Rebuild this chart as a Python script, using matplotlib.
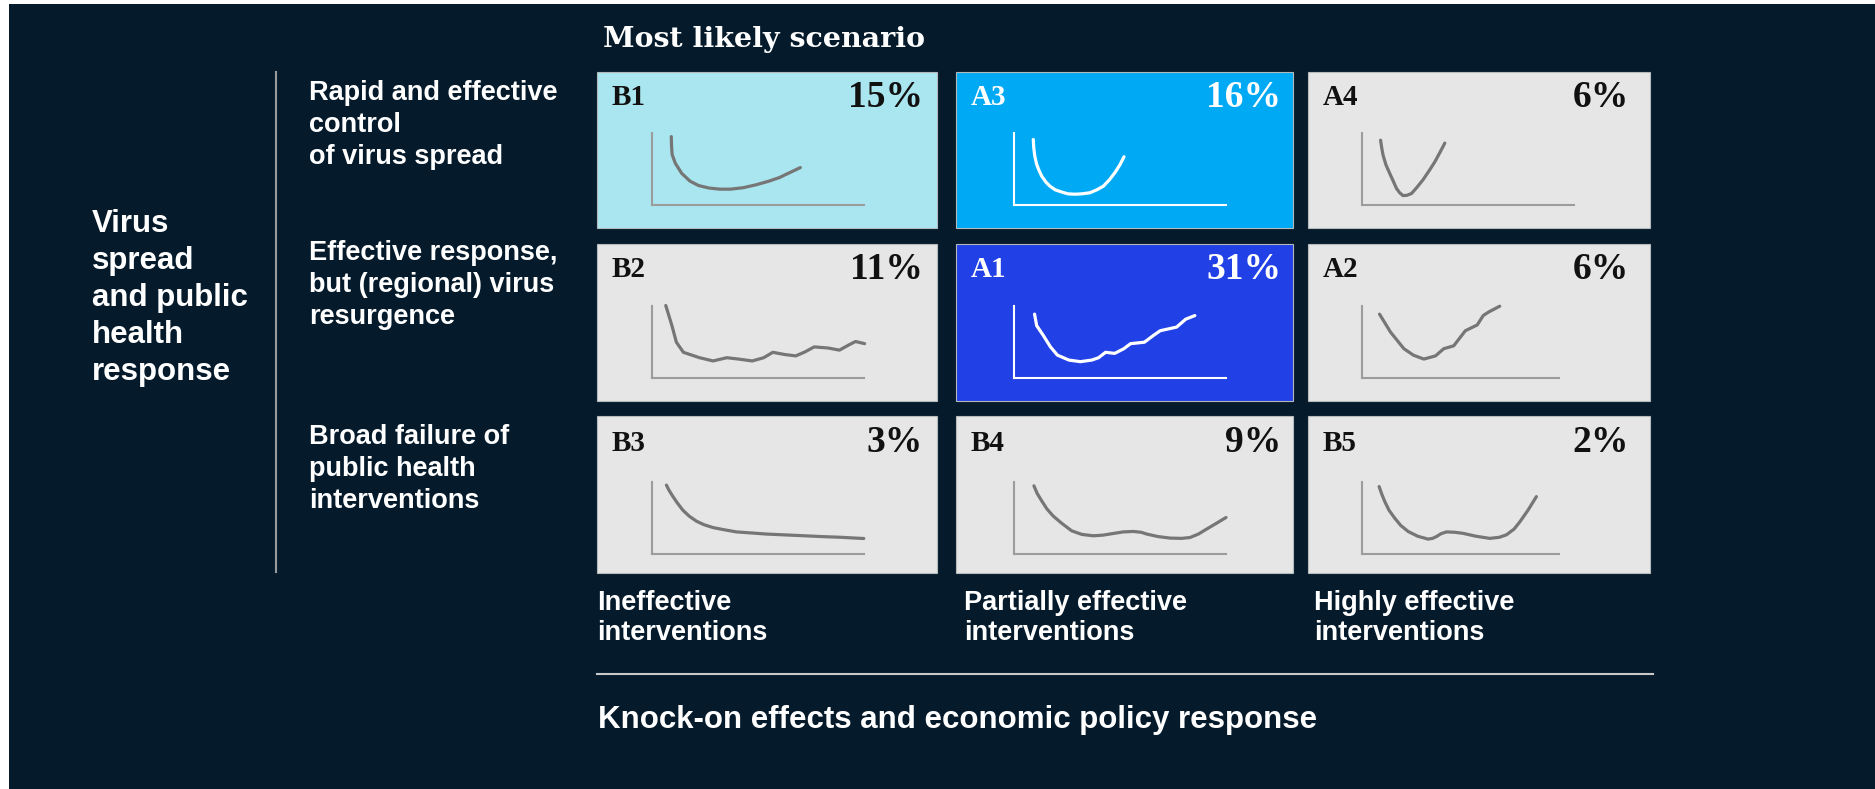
import matplotlib
matplotlib.use("Agg")

import matplotlib.pyplot as plt
from matplotlib.patches import Rectangle

W, H = 1875, 789

# ---- chart content -------------------------------------------------------
TITLE = "Most likely scenario"
SIDE_LABEL = ["Virus", "spread", "and public", "health", "response"]
ROW_LABELS = [
    ["Rapid and effective", "control", "of virus spread"],
    ["Effective response,", "but (regional) virus", "resurgence"],
    ["Broad failure of", "public health", "interventions"],
]
COL_LABELS = [
    ["Ineffective", "interventions"],
    ["Partially effective", "interventions"],
    ["Highly effective", "interventions"],
]
X_TITLE = "Knock-on effects and economic policy response"

CELL_IDS = [["B1", "A3", "A4"], ["B2", "A1", "A2"], ["B3", "B4", "B5"]]
SHARES = [[15, 16, 6], [11, 31, 6], [3, 9, 2]]

# sketched curves (mini-axes units, 0..10)
B1_X = [0.91, 0.92, 0.95, 1.1, 1.4, 1.8, 2.2, 2.7, 3.2, 3.7, 4.3, 4.9, 5.5, 6.0, 6.5, 7.0]
B1_Y = [9.5, 8.3, 7.0, 5.8, 4.4, 3.3, 2.7, 2.35, 2.2, 2.2, 2.4, 2.8, 3.3, 3.8, 4.5, 5.2]
A3_X = [0.91, 0.93, 0.98, 1.07, 1.18, 1.31, 1.5, 1.70, 1.95, 2.25, 2.55, 2.88, 3.2,
        3.58, 3.9, 4.21, 4.5, 4.76, 5.0, 5.19]
A3_Y = [9.1, 8.0, 6.8, 5.65, 4.8, 4.0, 3.2, 2.6, 2.1, 1.8, 1.55, 1.5, 1.55,
        1.7, 2.1, 2.6, 3.5, 4.5, 5.6, 6.7]
A4_X = [0.90, 0.95, 1.02, 1.15, 1.33, 1.5, 1.65, 1.8, 1.96, 2.15, 2.36, 2.6, 2.9,
        3.2, 3.46, 3.7, 3.93]
A4_Y = [9.0, 8.0, 6.9, 5.6, 4.4, 3.3, 2.3, 1.7, 1.3, 1.35, 1.6, 2.4, 3.5,
        4.8, 6.0, 7.3, 8.6]
B2_X = [0.65, 0.94, 1.15, 1.48, 2.24, 2.88, 3.53, 4.08, 4.73, 5.27, 5.70, 6.24,
        6.78, 7.22, 7.65, 8.3, 8.84, 9.27, 9.60, 10.03]
B2_Y = [10.0, 7.2, 4.9, 3.5, 2.75, 2.3, 2.75, 2.56, 2.3, 2.75, 3.5, 3.2,
        3.0, 3.56, 4.25, 4.1, 3.8, 4.5, 5.0, 4.7]
A1_X = [0.97, 1.07, 1.38, 1.72, 2.05, 2.59, 3.13, 3.67, 3.99, 4.32, 4.75, 5.18,
        5.5, 6.15, 6.58, 6.9, 7.67, 8.1, 8.53]
A1_Y = [8.8, 7.2, 5.85, 4.25, 3.1, 2.42, 2.2, 2.42, 2.75, 3.5, 3.35, 4.0,
        4.7, 4.9, 5.85, 6.5, 7.0, 8.1, 8.6]
A2_X = [0.85, 1.1, 1.37, 2.0, 2.45, 2.94, 3.49, 3.88, 4.35, 4.9, 5.46, 5.74, 6.0, 6.52]
A2_Y = [8.8, 7.6, 6.3, 4.0, 3.1, 2.56, 3.0, 4.0, 4.4, 6.5, 7.3, 8.6, 9.1, 9.9]
B3_X = [0.68, 0.8, 0.99, 1.2, 1.46, 1.75, 2.09, 2.45, 2.88, 3.4, 3.98, 4.7, 5.4,
        6.3, 7.28, 8.0, 8.85, 9.99]
B3_Y = [9.5, 8.8, 7.9, 7.0, 6.0, 5.2, 4.5, 4.0, 3.6, 3.3, 3.0, 2.85, 2.7,
        2.58, 2.45, 2.35, 2.26, 2.08]
B4_X = [0.94, 1.1, 1.31, 1.55, 1.85, 2.25, 2.72, 3.2, 3.74, 4.2, 4.68, 5.15, 5.63,
        6.0, 6.26, 6.8, 7.36, 7.9, 8.3, 8.7, 9.09, 9.55, 10.0]
B4_Y = [9.4, 8.3, 7.3, 6.2, 5.2, 4.2, 3.15, 2.65, 2.46, 2.55, 2.78, 3.0, 3.06,
        2.95, 2.7, 2.35, 2.14, 2.1, 2.22, 2.7, 3.4, 4.2, 5.0]
B5_X = [0.83, 0.95, 1.1, 1.3, 1.57, 1.85, 2.2, 2.65, 3.14, 3.35, 3.54, 3.75, 4.01,
        4.4, 4.79, 5.4, 6.05, 6.5, 6.84, 7.2, 7.47, 7.85, 8.25]
B5_Y = [9.3, 8.3, 7.2, 6.0, 4.9, 3.9, 3.06, 2.4, 2.0, 2.1, 2.36, 2.75, 3.0,
        2.95, 2.8, 2.4, 2.1, 2.25, 2.6, 3.4, 4.4, 6.0, 7.9]

CURVES = {
    "B1": (B1_X, B1_Y), "A3": (A3_X, A3_Y), "A4": (A4_X, A4_Y),
    "B2": (B2_X, B2_Y), "A1": (A1_X, A1_Y), "A2": (A2_X, A2_Y),
    "B3": (B3_X, B3_Y), "B4": (B4_X, B4_Y), "B5": (B5_X, B5_Y),
}

# ---- style / layout (pixels) ---------------------------------------------
BG = "#051b2c"
FILL = {"B1": "#aae6f0", "A3": "#00a9f4", "A1": "#2140e5"}
GRAY_BOX = "#e6e6e6"
WHITE_INK = {"A3", "A1"}
SHORT_AXIS = {"A2", "B5"}

COL_L = [597, 956, 1308]
COL_R = [937, 1293, 1650]
ROW_T = [72, 244, 416]
ROW_B = [228, 401, 573]
MINI_X0 = [652, 1014, 1361.5]
MINI_YT = [133, 305.5, 481.5]
MINI_W, MINI_H = 212, 72
ID_BASE = [105, 277, 451]
PCT_BASE = [107, 279, 452]
PCT_R = [923, 1281, 1629]

SERIF = "Liberation Serif"
SANS = "Liberation Sans"

fig = plt.figure(figsize=(W / 100, H / 100), dpi=100)
fig.patch.set_facecolor("white")
bg = fig.add_axes([0, 0, 1, 1])
bg.set_xlim(0, W)
bg.set_ylim(H, 0)
bg.axis("off")
bg.add_patch(Rectangle((9, 4), W - 9, H - 4, facecolor=BG, edgecolor="none"))


def lines_at(x, y0, step, lines, **kw):
    for i, s in enumerate(lines):
        bg.text(x, y0 + i * step, s, va="baseline", ha="left", **kw)


# headers
bg.text(603, 47, TITLE, color="white", fontsize=20.5, fontweight="bold",
        family="DejaVu Serif", va="baseline")
lines_at(92, 231.5, 37, SIDE_LABEL, color="white", fontsize=22.5,
         fontweight="bold", family=SANS)
bg.plot([275.5, 275.5], [72, 572], color="#9a9a9a", lw=1.5)
for r, first in enumerate([100, 260, 444]):
    lines_at(309, first, 32, ROW_LABELS[r], color="white", fontsize=19.5,
             fontweight="bold", family=SANS)
for c, x in enumerate([597.5, 964.5, 1314.5]):
    lines_at(x, 610, 30, COL_LABELS[c], color="white", fontsize=19.5,
             fontweight="bold", family=SANS)
bg.plot([597, 1653], [673.5, 673.5], color="#c8c8c8", lw=1.5)
bg.text(597.5, 728, X_TITLE, color="white", fontsize=22.5, fontweight="bold",
        family=SANS, va="baseline")

# scenario cells
for r in range(3):
    for c in range(3):
        cid = CELL_IDS[r][c]
        face = FILL.get(cid, GRAY_BOX)
        bg.add_patch(Rectangle((COL_L[c], ROW_T[r]), COL_R[c] - COL_L[c],
                               ROW_B[r] - ROW_T[r], facecolor=face,
                               edgecolor="#b4b9bc", lw=0.8))
        ink = "white" if cid in WHITE_INK else "#111111"
        bg.text(COL_L[c] + 15, ID_BASE[r], cid, color=ink, fontsize=21,
                fontweight="bold", family=SERIF, va="baseline")
        bg.text(PCT_R[c], PCT_BASE[r], f"{SHARES[r][c]}%", color=ink,
                fontsize=27, fontweight="bold", family=SERIF,
                va="baseline", ha="right")

        ax = fig.add_axes([MINI_X0[c] / W, 1 - (MINI_YT[r] + MINI_H) / H,
                           MINI_W / W, MINI_H / H])
        ax.set_xlim(0, 10)
        ax.set_ylim(0, 10)
        ax.patch.set_visible(False)
        ax.set_xticks([])
        ax.set_yticks([])
        for s in ("top", "right"):
            ax.spines[s].set_visible(False)
        axis_col = "white" if cid in WHITE_INK else "#9c9c9c"
        line_col = "white" if cid in WHITE_INK else "#767676"
        for s in ("left", "bottom"):
            ax.spines[s].set_color(axis_col)
            ax.spines[s].set_linewidth(1.5)
        if cid in SHORT_AXIS:
            ax.spines["bottom"].set_bounds(0, 9.33)
        xs, ys = CURVES[cid]
        ax.plot(xs, ys, color=line_col, lw=2.3, solid_capstyle="round",
                solid_joinstyle="round", clip_on=False)

fig.savefig("out.png", dpi=100, facecolor=fig.get_facecolor())
